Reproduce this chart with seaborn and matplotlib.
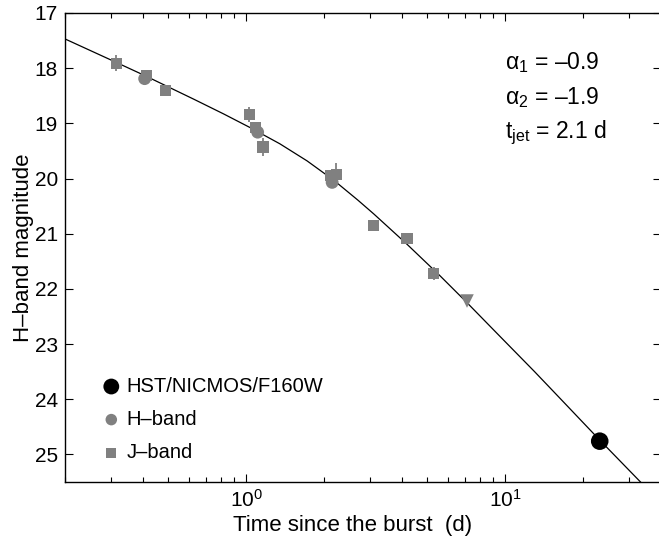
import numpy as np
import pandas as pd
import seaborn as sns
import matplotlib.pyplot as plt
from matplotlib.ticker import LogLocator, NullFormatter, FixedLocator

# J-band points (days, mag, error)
j_t = [0.316, 0.413, 0.489, 1.03, 1.086, 1.163, 2.12, 2.23, 3.11, 4.18, 5.30]
j_m = [17.91, 18.13, 18.41, 18.84, 19.07, 19.43, 19.95, 19.93, 20.85, 21.08, 21.72]
j_err = [0.15, 0.0, 0.0, 0.13, 0.0, 0.17, 0.0, 0.21, 0.0, 0.0, 0.12]

# H-band points
h_t = [0.406, 1.109, 2.15]
h_m = [18.19, 19.16, 20.07]

# upper limit (triangle)
lim_t = [7.13]
lim_m = [22.22]

# HST/NICMOS point
hst_t = [23.2]
hst_m = [24.76]

# fitted curve
curve_t = [0.2, 0.317, 0.409, 0.627, 0.82, 1.04, 1.35, 1.72, 2.18, 2.7, 3.11, 4.18,
           5.63, 7.13, 9.6, 13.0, 16.35, 23.2, 33.5]
curve_m = [17.47, 17.90, 18.14, 18.56, 18.83, 19.08, 19.37, 19.68, 20.03, 20.39, 20.64, 21.19,
           21.77, 22.25, 22.87, 23.50, 23.99, 24.74, 25.51]

params = [r"$\alpha_1$ = –0.9", r"$\alpha_2$ = –1.9", r"$t_{jet}$ = 2.1 d"]

sns.set_style("ticks")
plt.rcParams["font.family"] = ["Liberation Sans", "DejaVu Sans"]
plt.rcParams["mathtext.fontset"] = "custom"
plt.rcParams["mathtext.rm"] = "Liberation Sans"
plt.rcParams["mathtext.it"] = "Liberation Sans"
plt.rcParams["mathtext.default"] = "rm"
plt.rcParams["text.color"] = "black"
plt.rcParams["axes.labelcolor"] = "black"

grey = "#808080"

fig = plt.figure(figsize=(6.59, 5.43), dpi=100)
ax = fig.add_axes([65 / 659, 61 / 543, 596 / 659, 469 / 543])

curve = pd.DataFrame({"t": curve_t, "m": curve_m})
sns.lineplot(data=curve, x="t", y="m", color="black", lw=0.9, ax=ax, sort=False)

ax.errorbar(j_t, j_m, yerr=j_err, fmt="none", ecolor=grey, elinewidth=1.3, capsize=0, zorder=2)

sns.scatterplot(x=hst_t, y=hst_m, marker="o", s=160, color="black", edgecolor="none",
                label="HST/NICMOS/F160W", ax=ax, zorder=4)
sns.scatterplot(x=h_t, y=h_m, marker="o", s=85, color=grey, edgecolor="none",
                label="H–band", ax=ax, zorder=3)
sns.scatterplot(x=j_t, y=j_m, marker="s", s=65, color=grey, edgecolor="none",
                label="J–band", ax=ax, zorder=3)
sns.scatterplot(x=lim_t, y=lim_m, marker="v", s=95, color=grey, edgecolor="none",
                ax=ax, zorder=3)

ax.set_xscale("log")
ax.set_xlim(0.2, 40)
ax.set_ylim(25.5, 17)
ax.yaxis.set_major_locator(FixedLocator(range(17, 26)))
ax.xaxis.set_major_locator(LogLocator(base=10))
ax.xaxis.set_minor_locator(LogLocator(base=10, subs=np.arange(2, 10)))
ax.xaxis.set_minor_formatter(NullFormatter())

ax.tick_params(which="both", direction="in", top=True, right=True, labelsize=15,
               colors="black", labelcolor="black")
ax.tick_params(which="major", length=6, width=0.8, pad=5)
ax.tick_params(which="minor", length=3.5, width=0.8)
for s in ax.spines.values():
    s.set_linewidth(1.0)
    s.set_color("black")

ax.set_xlabel("Time since the burst  (d)", fontsize=16, labelpad=0)
ax.set_ylabel("H–band magnitude", fontsize=16)
ax.xaxis.set_label_coords(0.482, -0.07)
ax.yaxis.set_label_coords(-0.052, 0.5)

for i, txt in enumerate(params):
    ax.text(0.738, 0.895 - i * 0.0757, txt, transform=ax.transAxes, fontsize=16.5,
            ha="left", va="center")

ax.legend(loc="lower left", bbox_to_anchor=(0.027, 0.004), frameon=False, fontsize=14.5,
          handletextpad=0.15, labelspacing=0.7, handlelength=1.2, markerscale=0.9)

fig.savefig("out.png", dpi=100)
